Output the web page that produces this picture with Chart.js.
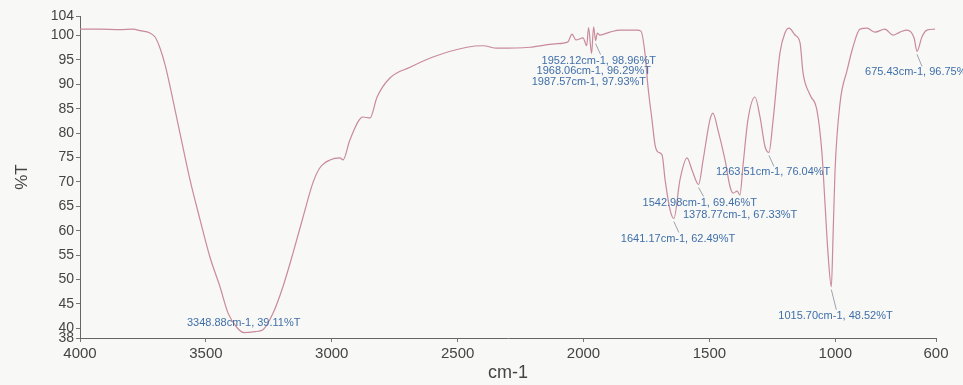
<!DOCTYPE html>
<html>
<head>
<meta charset="utf-8">
<script src="https://cdn.jsdelivr.net/npm/chart.js"></script>
<style>
  html, body { margin: 0; padding: 0; background: #f8f8f7; }
  #wrap { width: 963px; height: 385px; }
</style>
</head>
<body>
<div id="wrap"><canvas id="irChart" width="963" height="385"></canvas></div>
<script>
// spectrum (cm-1, %T)
const wavenumbers = [
  4000, 3921, 3841, 3789, 3762, 3722, 3702, 3682, 3662, 3642,
  3603, 3563, 3523, 3484, 3444, 3412, 3376, 3349, 3305, 3273,
  3233, 3194, 3154, 3114, 3075, 3047, 3007, 2967, 2955, 2928,
  2876, 2848, 2820, 2769, 2689, 2598, 2463, 2399, 2344, 2213,
  2113, 2062, 2046, 2030, 2002, 1987.57, 1980, 1968.06, 1960, 1952.12,
  1945, 1935, 1895, 1855, 1788, 1772, 1756, 1744, 1728, 1716,
  1704, 1688, 1676, 1656, 1641.17, 1617, 1589, 1569, 1542.98, 1525,
  1498, 1486, 1466, 1438, 1418, 1406, 1390, 1378.77, 1367, 1347,
  1319, 1299, 1279, 1263.51, 1247, 1220, 1200, 1184, 1160, 1140,
  1128, 1100, 1073, 1053, 1041, 1029, 1015.70, 1009, 1001, 981,
  953, 930, 902, 874, 842, 803, 771, 743, 715, 687,
  675.43, 656, 636, 604
];
const transmittance = [
  101.3, 101.3, 101.2, 101.3, 101.0, 100.5, 99.7, 97.4, 94.0, 89.5,
  80.0, 70.4, 62.2, 54.6, 48.5, 43.1, 40.1, 39.11, 39.3, 39.7,
  43.1, 48.5, 55.4, 62.8, 69.8, 72.9, 74.5, 74.9, 74.5, 78.6,
  83.3, 83.1, 87.4, 91.3, 93.5, 95.6, 97.6, 97.9, 97.4, 97.6,
  98.3, 98.7, 100.3, 99.1, 99.5, 97.93, 101.6, 96.29, 101.8, 98.96,
  100.5, 100.1, 100.7, 101.1, 101.1, 100.9, 96.4, 89.5, 82.7, 77.6,
  76.1, 75.5, 70.4, 64.2, 62.49, 70.4, 74.9, 72.4, 69.46, 74.5,
  82.7, 84.1, 80.6, 74.5, 69.0, 67.7, 68.1, 67.33, 73.1, 82.7,
  87.4, 83.3, 77.2, 76.04, 82.7, 96.4, 100.5, 101.5, 100.1, 98.5,
  92.3, 87.8, 84.7, 75.9, 65.7, 55.4, 48.52, 58.7, 72.4, 86.2,
  92.9, 97.6, 101.3, 101.5, 100.7, 101.3, 100.1, 100.7, 101.1, 99.5,
  96.75, 99.7, 101.1, 101.3
];

// labelled peaks
const peakWn = [3348.88, 1952.12, 1968.06, 1987.57, 1263.51, 1542.98, 1378.77, 1641.17, 1015.70, 675.43];
const peakT  = [39.11, 98.96, 96.29, 97.93, 76.04, 69.46, 67.33, 62.49, 48.52, 96.75];

const xTicks = [4000, 3500, 3000, 2500, 2000, 1500, 1000, 600];
const yTicks = [38, 40, 45, 50, 55, 60, 65, 70, 75, 80, 85, 90, 95, 100, 104];

// where each label sits relative to its peak (px) and whether it has a leader
const labelOffsets = [
  [-57, -10, false], [-54, 20, true], [-55, 17, false], [-55, 36, false],
  [-53, 20, true], [-56, 18, true], [-57, 20, false], [-53, 20, true],
  [-53, 29, true], [-52, 21, true]
];

const points = wavenumbers.map((w, i) => ({ x: w, y: transmittance[i] }));

const peakLabels = {
  id: 'peakLabels',
  afterDatasetsDraw(chart) {
    const { ctx, scales: { x, y } } = chart;
    ctx.save();
    ctx.font = '11px "Liberation Sans", Arial, sans-serif';
    ctx.textBaseline = 'middle';
    ctx.fillStyle = '#3f6fa8';
    ctx.strokeStyle = '#8a8a9a';
    ctx.lineWidth = 0.8;
    peakWn.forEach((w, i) => {
      const ax = x.getPixelForValue(w);
      const ay = y.getPixelForValue(peakT[i]);
      const [dx, dy, leader] = labelOffsets[i];
      if (leader) {
        ctx.beginPath();
        ctx.moveTo(ax, ay + 3);
        ctx.lineTo(ax + 5, ay + dy - 6);
        ctx.stroke();
      }
      ctx.fillText(w.toFixed(2) + 'cm-1, ' + peakT[i].toFixed(2) + '%T', ax + dx, ay + dy);
    });
    ctx.restore();
  }
};

const axisFont = { family: '"Liberation Sans", Arial, sans-serif', size: 14 };

new Chart(document.getElementById('irChart'), {
  type: 'line',
  data: {
    datasets: [{
      data: points,
      borderColor: '#c98a9a',
      borderWidth: 1.2,
      pointRadius: 0,
      fill: false,
      cubicInterpolationMode: 'monotone'
    }]
  },
  options: {
    responsive: false,
    animation: false,
    layout: { padding: { left: 8, top: 16, right: 27, bottom: 0 } },
    plugins: { legend: { display: false }, tooltip: { enabled: false } },
    scales: {
      x: {
        type: 'linear',
        reverse: true,
        min: 600,
        max: 4000,
        afterBuildTicks: s => { s.ticks = xTicks.map(v => ({ value: v })); },
        afterFit: s => { s.height = 47; },
        ticks: { autoSkip: false, maxRotation: 0, color: '#444', font: { family: axisFont.family, size: 15 }, padding: 3,
                 callback: v => String(v) },
        grid: { display: true, drawOnChartArea: false, tickLength: 4, color: '#777' },
        border: { color: '#666', width: 1 },
        title: { display: true, text: 'cm-1', color: '#444', font: { family: axisFont.family, size: 18 }, padding: { top: 0, bottom: 1 } }
      },
      y: {
        min: 38,
        max: 104,
        afterBuildTicks: s => { s.ticks = yTicks.map(v => ({ value: v })); },
        afterFit: s => { s.width = 72; },
        ticks: { autoSkip: false, color: '#444', font: axisFont, padding: 2 },
        grid: { display: true, drawOnChartArea: false, tickLength: 4, color: '#777' },
        border: { color: '#666', width: 1 },
        title: { display: true, text: '%T', color: '#444', font: { family: axisFont.family, size: 17 }, padding: { top: 4, bottom: 0 } }
      }
    }
  },
  plugins: [peakLabels]
});
</script>
</body>
</html>
